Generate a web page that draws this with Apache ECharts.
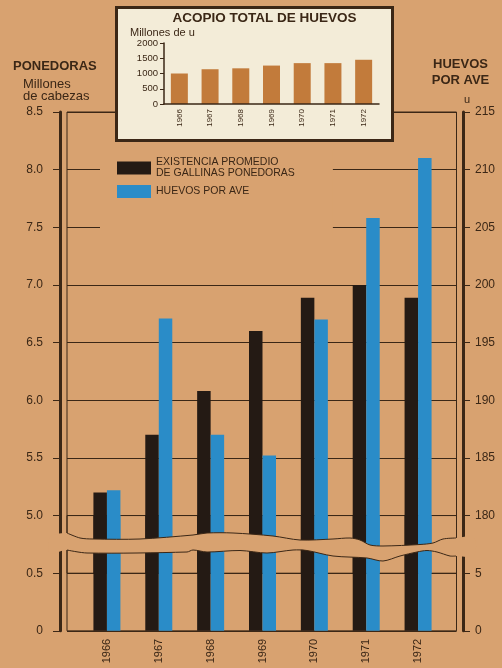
<!DOCTYPE html>
<html><head><meta charset="utf-8">
<script src="https://cdn.jsdelivr.net/npm/echarts@6/dist/echarts.min.js"></script>
<style>html,body{margin:0;padding:0;background:#d8a270;}#c{width:502px;height:668px;}</style>
</head><body><div id="c"></div>
<script>
// ---- data ----
const years = ['1966','1967','1968','1969','1970','1971','1972'];
const layingHens = [5.2, 5.7, 6.08, 6.6, 6.89, 7.0, 6.89];      // millones de cabezas
const eggsPerHen = [182.2, 197.1, 187, 185.2, 197, 205.8, 211];   // u por ave
const totalEggs = [1000, 1140, 1170, 1260, 1340, 1340, 1450];     // millones de u
const henName = 'EXISTENCIA PROMEDIO\nDE GALLINAS PONEDORAS';
const eggName = 'HUEVOS POR AVE';

// ---- style ----
const BG = '#d8a270', INK = '#3b2716', BLACK = '#241a14', BLUE = '#2a8cc8',
      INSET_BG = '#f3ecd8', INSET_BAR = '#c27b3b';
const FONT = '"Liberation Sans", Arial, sans-serif';
const U = 115.3, TOP = 112;

const chart = echarts.init(document.getElementById('c'), null, {renderer: 'canvas'});

const frameY = (gi, pos, min, max, interval, off, opts) => Object.assign({
  type: 'value', gridIndex: gi, position: pos, offset: off, min, max, interval,
  axisLine: {show: true, onZero: false, lineStyle: {color: INK, width: 3}},
  axisTick: {show: true, length: 7, lineStyle: {color: INK, width: 1}},
  axisLabel: {color: INK, fontSize: 12, fontFamily: FONT, margin: pos === 'left' ? 17 : 12},
  splitLine: {show: false}
}, opts);

const topWave = [[67,533],[80,538],[93,539],[140,539],[193,535],[207,533],[233,533],[273,536],[300,540],[333,539],[350,538],[360,540],[370,545],[383,546],[420,544.5],[433,543],[443,539],[456,538]];
const bottomWave = [[67,550],[87,553],[187,552],[193,550],[207,552],[240,550.5],[267,553],[293,550],[307,550.5],[333,556],[367,558],[383,561],[400,556],[417,552],[427,550.5],[437,552],[450,556],[456,556]];
const band = [[50,537]].concat(topWave, [[474,537],[474,556]], bottomWave.slice().reverse(), [[50,553]]);

const txt = (text, x, y, font, align) => ({
  type: 'text', z: 10,
  style: {text, x, y, font, fill: INK, textAlign: align || 'left', align: align || 'left',
          textVerticalAlign: 'middle', verticalAlign: 'middle'}
});

chart.setOption({
  backgroundColor: BG,
  animation: false,
  grid: [
    {left: 164, top: 43, width: 215, height: 61},
    {left: 67, top: TOP, width: 389.5, height: 4 * U, show: true, borderColor: INK, borderWidth: 1, backgroundColor: 'transparent'},
    {left: 67, top: TOP + 3.5 * U, width: 389.5, height: U, show: true, borderColor: INK, borderWidth: 1, backgroundColor: 'transparent'},
    {left: 81, top: TOP, width: 363, height: 4 * U},
    {left: 81, top: TOP + 3.5 * U, width: 363, height: U}
  ],
  xAxis: [
    {type: 'category', gridIndex: 0, data: years, z: 3,
     axisLine: {lineStyle: {color: INK, width: 1.5}}, axisTick: {show: false},
     axisLabel: {rotate: 90, interval: 0, fontSize: 8, color: INK, fontFamily: FONT, margin: 5}},
    {type: 'value', gridIndex: 1, show: false, min: 0, max: 1},
    {type: 'value', gridIndex: 2, show: false, min: 0, max: 1},
    {type: 'category', gridIndex: 3, data: years, show: false},
    {type: 'category', gridIndex: 4, data: years,
     axisLine: {show: false}, axisTick: {show: false},
     axisLabel: {rotate: 90, interval: 0, fontSize: 11, color: INK, fontFamily: FONT, margin: 8}}
  ],
  yAxis: [
    {type: 'value', gridIndex: 0, min: 0, max: 2000, interval: 500, z: 3,
     axisLine: {show: true, lineStyle: {color: INK, width: 1.5}},
     axisTick: {show: true, length: 4, lineStyle: {color: INK}},
     axisLabel: {fontSize: 9.5, color: INK, fontFamily: FONT, margin: 6, formatter: v => String(v)},
     splitLine: {show: false}},
    frameY(1, 'left', 4.5, 8.5, 0.5, 7, {
      axisLabel: {color: INK, fontSize: 12, fontFamily: FONT, margin: 17, showMinLabel: false,
                  formatter: v => v.toFixed(1)},
      splitLine: {show: true, lineStyle: {color: INK, width: 1}}}),
    frameY(1, 'right', 175, 215, 5, 6.5, {
      axisLabel: {color: INK, fontSize: 12, fontFamily: FONT, margin: 12, showMinLabel: false}}),
    frameY(2, 'left', 0, 1, 0.5, 7, {
      axisLabel: {color: INK, fontSize: 12, fontFamily: FONT, margin: 17, showMaxLabel: false,
                  formatter: v => v === 0 ? '0' : v.toFixed(1)},
      splitLine: {show: true, lineStyle: {color: INK, width: 1}}}),
    frameY(2, 'right', 0, 10, 5, 6.5, {
      axisLabel: {color: INK, fontSize: 12, fontFamily: FONT, margin: 12, showMaxLabel: false}}),
    {type: 'value', gridIndex: 3, position: 'left', min: 4.5, max: 8.5, show: false},
    {type: 'value', gridIndex: 3, position: 'right', min: 175, max: 215, show: false},
    {type: 'value', gridIndex: 4, position: 'left', min: 0, max: 1, show: false},
    {type: 'value', gridIndex: 4, position: 'right', min: 0, max: 10, show: false}
  ],
  legend: {
    data: [henName, eggName], orient: 'vertical', left: 100, top: 150,
    padding: [7, 38, 38, 17], backgroundColor: BG, selectedMode: false,
    itemWidth: 34, itemHeight: 13, itemGap: 6, icon: 'rect',
    textStyle: {fontSize: 10.5, color: INK, fontFamily: FONT, lineHeight: 11}
  },
  series: [
    {type: 'bar', xAxisIndex: 0, yAxisIndex: 0, data: totalEggs, barWidth: 17,
     itemStyle: {color: INSET_BAR}},
    {type: 'bar', name: henName, xAxisIndex: 3, yAxisIndex: 5, data: layingHens,
     barWidth: 13.5, barGap: '0%', itemStyle: {color: BLACK}},
    {type: 'bar', name: eggName, xAxisIndex: 3, yAxisIndex: 6, data: eggsPerHen,
     barWidth: 13.5, barGap: '0%', itemStyle: {color: BLUE}},
    {type: 'bar', name: henName, xAxisIndex: 4, yAxisIndex: 7, data: layingHens,
     barWidth: 13.5, barGap: '0%', itemStyle: {color: BLACK}},
    {type: 'bar', name: eggName, xAxisIndex: 4, yAxisIndex: 8, data: eggsPerHen,
     barWidth: 13.5, barGap: '0%', itemStyle: {color: BLUE}}
  ],
  graphic: [
    {type: 'rect', z: 1, shape: {x: 116.5, y: 7.5, width: 276, height: 133},
     style: {fill: INSET_BG, stroke: INK, lineWidth: 3}},
    txt('ACOPIO TOTAL DE HUEVOS', 264.5, 18.5, 'bold 13.5px ' + FONT, 'center'),
    txt('Millones de u', 130, 33, '11px ' + FONT, 'left'),
    txt('PONEDORAS', 13, 66, 'bold 13px ' + FONT, 'left'),
    txt('Millones', 23, 84.5, '13px ' + FONT, 'left'),
    txt('de cabezas', 23, 96, '13px ' + FONT, 'left'),
    txt('HUEVOS', 460.5, 64, 'bold 13px ' + FONT, 'center'),
    txt('POR AVE', 460.5, 80, 'bold 13px ' + FONT, 'center'),
    txt('u', 467, 99.5, '11px ' + FONT, 'center'),
    {type: 'polygon', z: 50, shape: {points: band, smooth: 0.3}, style: {fill: BG, stroke: null}},
    {type: 'polyline', z: 51, shape: {points: topWave, smooth: 0.3}, style: {stroke: INK, lineWidth: 1, fill: null}},
    {type: 'polyline', z: 51, shape: {points: bottomWave, smooth: 0.3}, style: {stroke: INK, lineWidth: 1, fill: null}}
  ]
});
</script></body></html>
